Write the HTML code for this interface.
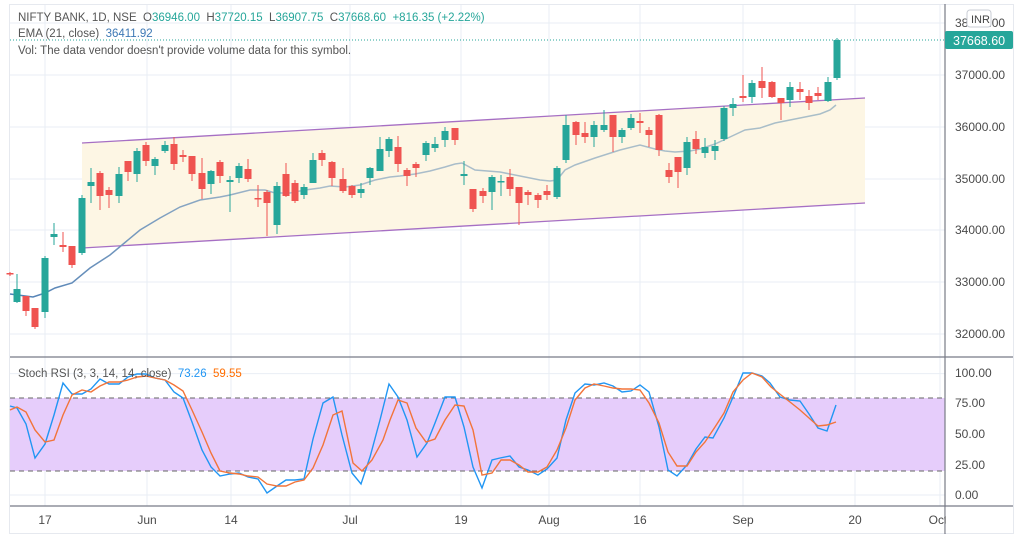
<!DOCTYPE html>
<html><head><meta charset="utf-8"><style>
html,body{margin:0;padding:0;background:#fff;width:1024px;height:539px;overflow:hidden}
svg{display:block}
text{font-family:"Liberation Sans",sans-serif;white-space:pre}
</style></head><body>
<svg id="s" width="1024" height="539" xmlns="http://www.w3.org/2000/svg" xml:space="preserve">
<rect x="0" y="0" width="1024" height="539" fill="#fff"/>
<rect x="9.5" y="4.5" width="1004" height="529" fill="none" stroke="#e6e9ef"/>
<g id="grid" stroke="#e9eef4" stroke-width="1"></g>
<polygon points="82,143 865,98 865,203 82,248" fill="#fdf6e4"/>
<line x1="82" y1="143" x2="865" y2="98" stroke="#a66fc4" stroke-width="1.3"/>
<line x1="82" y1="248" x2="865" y2="203" stroke="#a66fc4" stroke-width="1.3"/>
<rect x="10" y="398" width="935" height="73" fill="#e6cdfb"/>
<line x1="10" y1="398" x2="945" y2="398" stroke="#666" stroke-dasharray="5,4"/>
<line x1="10" y1="471" x2="945" y2="471" stroke="#666" stroke-dasharray="5,4"/>
<defs><linearGradient id="eg" x1="0" x2="1" y1="0" y2="0"><stop offset="0" stop-color="#4f7fb5"/><stop offset="0.35" stop-color="#a9bcca"/><stop offset="1" stop-color="#a9bec8"/></linearGradient></defs>
<polyline fill="none" stroke="url(#eg)" stroke-width="1.5" points="10,294 33,297 45,293 55,288 72,283 90,268 110,255 122,245 140,230 160,218 180,207 200,200 220,197 230,195 250,190 265,190 275,193 290,193 305,190 320,188 330,186 345,187 360,185 375,180 390,177 400,176 415,174 430,171 445,167 455,164 462,163 475,170 500,172 520,176 540,180 550,181 557,180 565,170 575,165 595,158 620,150 640,145 655,149 665,151 675,152 690,151 700,149 715,144 730,137 745,130 760,128 775,123 790,120 805,117 820,114 830,110 836,105"/>
<g id="candles"></g>
<line x1="10" y1="40" x2="944" y2="40" stroke="#26a69a" stroke-dasharray="1,2"/>
<polyline fill="none" stroke="#2196f3" stroke-width="1.4" points="10,406 17,408 26,424 35,458 45,444 54,415 63,383 72,394 82,394 91,389 100,379 109,384 119,384 128,377 137,374 146,374 155,378 165,380 174,392 183,398 192,422 202,450 211,467 220,476 230,474 239,473 248,477 258,479 267,493 277,486 286,480 295,480 304,479 313,439 323,403 333,397 342,435 352,473 361,484 370,457 380,420 389,384 398,397 407,420 417,457 427,443 435,423 445,397 455,397 464,427 473,467 482,488 492,460 500,458 510,456 519,467 528,470 538,475 547,469 557,458 566,420 575,393 585,384 594,385 604,383 613,386 622,392 631,391 640,385 649,392 659,427 668,470 677,476 687,465 696,449 705,437 713,438 724,418 733,397 743,373 752,373 762,376 770,383 780,397 790,400 800,401 809,414 818,428 827,431 836,405"/>
<polyline fill="none" stroke="#f2743a" stroke-width="1.4" points="10,410 17,407 26,412 35,430 45,442 54,440 63,415 72,395 82,390 91,392 100,386 109,382 119,382 128,380 137,377 146,376 155,378 165,380 174,385 183,391 192,410 202,432 211,453 220,471 230,473 239,474 248,476 258,477 267,484 277,486 286,486 295,482 304,480 313,468 323,445 333,415 342,411 353,463 362,471 372,460 383,440 390,420 398,400 407,403 416,428 426,442 435,439 445,420 455,405 464,406 473,430 482,475 492,473 501,460 510,460 519,465 528,472 538,472 547,467 557,450 566,428 575,400 585,388 594,384 604,386 613,388 622,389 631,389 640,390 649,403 659,423 668,452 677,466 687,466 696,452 705,442 715,427 724,413 733,392 743,380 752,373 762,377 771,387 781,395 790,402 800,410 809,418 818,426 827,425 836,422"/>
<line x1="10" y1="357" x2="1013" y2="357" stroke="#787b86" stroke-width="1.2"/>
<line x1="10" y1="506" x2="1013" y2="506" stroke="#787b86" stroke-width="1.2"/>
<line x1="945" y1="4" x2="945" y2="534" stroke="#787b86" stroke-width="1.2"/>
<g font-size="12" fill="#4a4a4a">
<text x="955" y="27">38000.00</text>
<text x="955" y="79">37000.00</text>
<text x="955" y="131">36000.00</text>
<text x="955" y="183">35000.00</text>
<text x="955" y="234">34000.00</text>
<text x="955" y="286">33000.00</text>
<text x="955" y="338">32000.00</text>
<text x="955" y="377">100.00</text>
<text x="955" y="407">75.00</text>
<text x="955" y="438">50.00</text>
<text x="955" y="469">25.00</text>
<text x="955" y="499">0.00</text>
</g>
<rect x="967" y="10" width="24" height="17" rx="3" fill="#fff" stroke="#c8ccd4"/>
<text x="971" y="23" font-size="11" fill="#444">INR</text>
<rect x="945" y="31" width="68" height="18" rx="2" fill="#26a69a"/>
<text x="953" y="45" font-size="12.5" fill="#fff">37668.60</text>
<g font-size="12" fill="#4a4a4a" text-anchor="middle">
<text x="45" y="524">17</text><text x="147" y="524">Jun</text><text x="231" y="524">14</text>
<text x="350" y="524">Jul</text><text x="461" y="524">19</text><text x="549" y="524">Aug</text>
<text x="640" y="524">16</text><text x="743" y="524">Sep</text><text x="855" y="524">20</text>
<text x="938" y="524">Oct</text>
</g>
<rect x="945.6" y="507" width="67" height="26" fill="#fff"/>
<text x="18" y="21" font-size="11.5" fill="#555">NIFTY BANK, 1D, NSE  O<tspan fill="#26a69a">36946.00</tspan>  H<tspan fill="#26a69a">37720.15</tspan>  L<tspan fill="#26a69a">36907.75</tspan>  C<tspan fill="#26a69a">37668.60</tspan>  <tspan fill="#26a69a">+816.35 (+2.22%)</tspan></text>
<text x="18" y="37" font-size="11.5" fill="#555">EMA (21, close)  <tspan fill="#3d78b5">36411.92</tspan></text>
<text x="18" y="54" font-size="11.5" fill="#555">Vol: The data vendor doesn't provide volume data for this symbol.</text>
<text x="18" y="377" font-size="11.5" fill="#555">Stoch RSI (3, 3, 14, 14, close)  <tspan fill="#2196f3">73.26</tspan>  <tspan fill="#ff6d00">59.55</tspan></text>
</svg>
<script>
var NS="http://www.w3.org/2000/svg";
function el(p,t,a){var e=document.createElementNS(NS,t);for(var k in a)e.setAttribute(k,a[k]);p.appendChild(e);return e;}
var g=document.getElementById('grid');
[23,75,127,179,230,282,334,373.6,404,434,465,495].forEach(function(y){el(g,'line',{x1:10,x2:945,y1:y,y2:y});});
[45,147,231,350,461,549,640,743,855,940].forEach(function(x){el(g,'line',{x1:x,x2:x,y1:5,y2:506});});
var C=[[10,273,274,272,276,'r'],[17,289,302,274,303,'g'],[26,296,311,296,316,'r'],[35,308,327,308,329,'r'],[45,258,312,256,318,'g'],[54,234,237,223,245,'g'],[63,245,247,232,252,'r'],[72,246,265,246,268,'r'],[82,198,253,195,255,'g'],[91,182,186,168,203,'g'],[100,173,196,171,210,'r'],[109,190,195,187,208,'r'],[119,174,196,167,203,'g'],[128,161,172,161,181,'r'],[137,151,174,148,182,'g'],[146,145,161,142,166,'r'],[155,159,166,157,175,'g'],[165,145,151,141,153,'g'],[174,144,164,137,170,'r'],[183,155,157,150,162,'r'],[192,156,174,156,181,'r'],[202,173,189,158,199,'r'],[211,171,184,170,194,'g'],[220,162,176,160,183,'r'],[230,180,182,176,212,'g'],[239,166,178,163,183,'g'],[248,169,179,159,182,'r'],[258,198,199,185,207,'r'],[267,192,203,190,236,'r'],[277,186,225,182,234,'g'],[286,174,196,163,197,'r'],[295,183,201,180,203,'r'],[304,187,195,184,199,'g'],[313,160,183,153,183,'g'],[322,153,160,150,166,'r'],[332,162,178,161,186,'r'],[343,179,191,168,193,'r'],[352,186,195,185,198,'r'],[361,189,193,183,198,'g'],[370,168,178,167,185,'g'],[380,149,171,137,171,'g'],[389,139,151,137,157,'g'],[398,147,164,136,172,'r'],[407,170,176,168,186,'r'],[416,164,168,162,177,'r'],[426,143,155,141,161,'g'],[435,144,148,137,152,'g'],[445,131,140,127,147,'g'],[455,128,140,128,145,'r'],[464,174,176,161,185,'g'],[473,189,209,189,212,'r'],[483,191,196,188,203,'r'],[492,177,192,175,210,'g'],[501,181,182,175,196,'g'],[510,177,189,169,196,'r'],[519,187,203,187,225,'r'],[528,192,195,190,205,'r'],[538,195,200,193,208,'r'],[547,191,195,185,200,'r'],[557,168,197,166,199,'g'],[566,125,160,115,163,'g'],[576,122,135,121,145,'r'],[585,133,137,122,143,'r'],[594,125,137,121,147,'g'],[604,125,130,110,132,'g'],[613,115,137,115,152,'r'],[622,130,137,128,143,'g'],[631,118,128,114,130,'g'],[640,121,123,113,133,'r'],[649,130,135,127,147,'r'],[659,115,150,114,156,'r'],[669,170,177,163,183,'r'],[678,157,172,163,188,'r'],[687,142,168,137,175,'g'],[696,139,149,131,154,'r'],[705,147,153,138,158,'g'],[715,146,151,140,160,'g'],[724,108,139,106,141,'g'],[733,104,108,98,116,'g'],[743,96,98,75,102,'r'],[752,83,97,80,103,'g'],[762,81,88,67,98,'r'],[772,82,97,81,98,'r'],[781,98,103,98,120,'r'],[790,87,100,82,107,'g'],[800,89,92,82,100,'r'],[809,96,103,90,110,'r'],[818,93,96,87,100,'r'],[828,82,101,77,102,'g'],[837,40,78,38,80,'g']];
var cg=document.getElementById('candles');
C.forEach(function(c){var col=c[5]=='g'?'#26a69a':'#ef5350';
el(cg,'line',{x1:c[0],x2:c[0],y1:Math.min(c[3],c[1]),y2:Math.max(c[4],c[2]),stroke:col,'stroke-width':1});
var h=Math.max(c[2]-c[1],1.5);el(cg,'rect',{x:c[0]-3.5,y:c[1],width:7,height:h,fill:col});});
</script>
</body></html>
